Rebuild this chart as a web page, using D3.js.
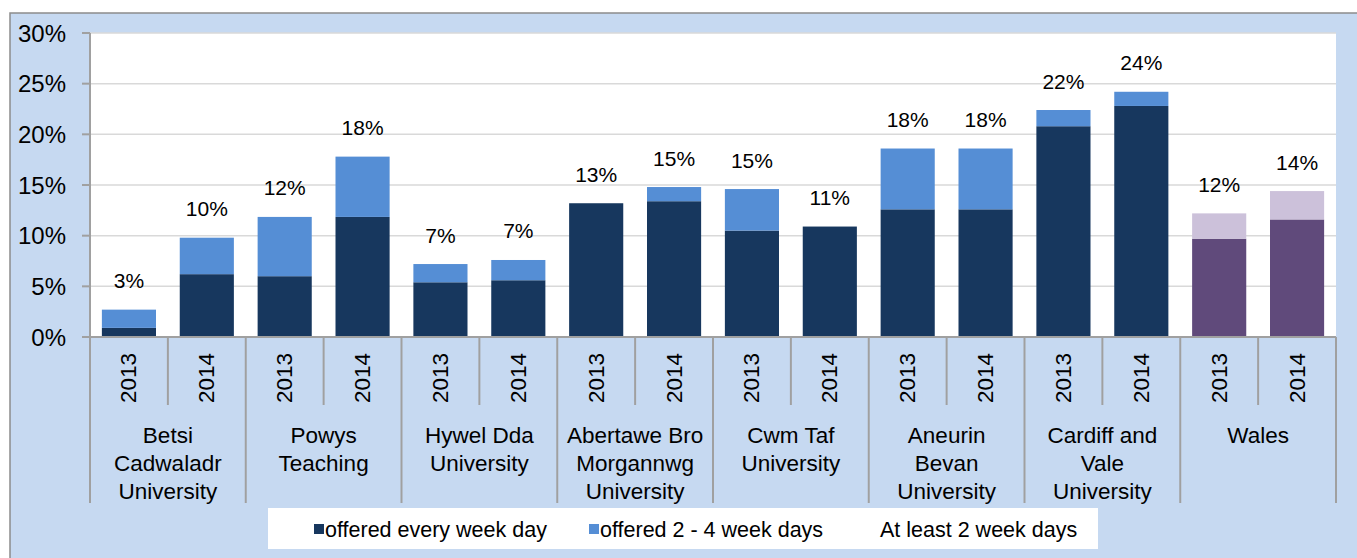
<!DOCTYPE html>
<html><head><meta charset="utf-8">
<script src="https://cdn.jsdelivr.net/npm/d3@7"></script>
<style>
body{margin:0;background:#fff;}
text{font-family:"Liberation Sans",Arial,sans-serif;fill:#000;}
</style></head>
<body><svg id="c" width="1357" height="558"></svg>
<script>
const groups = ["Betsi Cadwaladr University","Powys Teaching","Hywel Dda University","Abertawe Bro Morgannwg University","Cwm Taf University","Aneurin Bevan University","Cardiff and Vale University","Wales"];
const groupLines = [["Betsi","Cadwaladr","University"],["Powys","Teaching"],["Hywel Dda","University"],["Abertawe Bro","Morgannwg","University"],["Cwm Taf","University"],["Aneurin","Bevan","University"],["Cardiff and","Vale","University"],["Wales"]];
const years = ["2013","2014"];
const everyDay = [0.9,6.2, 6.0,11.85, 5.4,5.6, 13.2,13.4, 10.5,10.9, 12.6,12.6, 20.8,22.8, 9.7,11.6];
const twoToFour = [1.8,3.6, 5.85,5.95, 1.8,2.0, 0.0,1.4, 4.1,0.0, 6.0,6.0, 1.6,1.4, 2.5,2.8];
const labels = ["3%","10%","12%","18%","7%","7%","13%","15%","15%","11%","18%","18%","22%","24%","12%","14%"];
const yTicks = [0,5,10,15,20,25,30];
const legendNames = ["offered every week day","offered 2 - 4 week days","At least 2 week days"];

const svg = d3.select("#c");
const L=90, R=1336, T=33, B=337;
svg.append("rect").attr("x",10).attr("y",13).attr("width",1400).attr("height",600)
  .attr("fill","#C6D9F1").attr("stroke","#8C8C8C").attr("stroke-width",1.5);
svg.append("rect").attr("x",L).attr("y",T).attr("width",R-L).attr("height",B-T).attr("fill","#fff");

const keys = [];
groups.forEach((g,i)=>years.forEach(y=>keys.push(i+"-"+y)));
const x = d3.scaleBand().domain(keys).range([L,R]).paddingInner(0.305).paddingOuter(0.1525);
const step = x.step();
const y = d3.scaleLinear().domain([0,30]).range([B,T]);

// gridlines
svg.append("g").selectAll("line").data(yTicks.filter(t=>t>0)).join("line")
  .attr("x1",L).attr("x2",R).attr("y1",d=>y(d)).attr("y2",d=>y(d))
  .attr("stroke","#D9D9D9").attr("stroke-width",1.5);

// bars
const isWales = i => i>=14;
const bars = svg.append("g");
keys.forEach((k,i)=>{
  bars.append("rect").attr("x",x(k)).attr("width",x.bandwidth())
    .attr("y",y(everyDay[i])).attr("height",y(0)-y(everyDay[i]))
    .attr("fill",isWales(i)?"#604A7B":"#17375E");
  if(twoToFour[i]>0){
    const top=everyDay[i]+twoToFour[i];
    bars.append("rect").attr("x",x(k)).attr("width",x.bandwidth())
      .attr("y",y(top)).attr("height",y(everyDay[i])-y(top))
      .attr("fill",isWales(i)?"#CCC1DA":"#558ED5");
  }
  svg.append("text").attr("x",x(k)+x.bandwidth()/2).attr("y",y(everyDay[i]+twoToFour[i])-29)
    .attr("text-anchor","middle").attr("dominant-baseline","central")
    .attr("font-size",21).text(labels[i]);
});

// y axis
const ya = svg.append("g");
ya.append("line").attr("x1",L).attr("x2",L).attr("y1",T).attr("y2",B).attr("stroke","#A0A0A0").attr("stroke-width",2);
yTicks.forEach(t=>{
  ya.append("line").attr("x1",L-8).attr("x2",L).attr("y1",y(t)).attr("y2",y(t)).attr("stroke","#A0A0A0").attr("stroke-width",2);
  ya.append("text").attr("x",66).attr("y",y(t)).attr("text-anchor","end").attr("dominant-baseline","central")
    .attr("font-size",24).text(t+"%");
});

// x axis (multi-level)
const xa = svg.append("g");
xa.append("line").attr("x1",L).attr("x2",R).attr("y1",B).attr("y2",B).attr("stroke","#A0A0A0").attr("stroke-width",2);
for(let j=0;j<=keys.length;j++){
  const xx = L + j*step;
  xa.append("line").attr("x1",xx).attr("x2",xx).attr("y1",B).attr("y2",j%2===0?503:405)
    .attr("stroke","#A0A0A0").attr("stroke-width",2);
}
keys.forEach((k,i)=>{
  const cx = x(k)+x.bandwidth()/2;
  xa.append("text").attr("transform",`translate(${cx},378) rotate(-90)`)
    .attr("text-anchor","middle").attr("dominant-baseline","central").attr("font-size",22.5)
    .text(years[i%2]);
});
groupLines.forEach((lines,g)=>{
  const cx = L + (2*g+1)*step;
  lines.forEach((ln,li)=>{
    xa.append("text").attr("x",cx).attr("y",435+li*28).attr("text-anchor","middle")
      .attr("dominant-baseline","central").attr("font-size",22.5).text(ln);
  });
});

// legend
const lg = svg.append("g");
lg.append("rect").attr("x",268).attr("y",508).attr("width",830).attr("height",41).attr("fill","#fff");
const legX = [314,589,880];
const legC = ["#17375E","#558ED5",null];
legendNames.forEach((n,i)=>{
  if(legC[i]) lg.append("rect").attr("x",legX[i]).attr("y",524).attr("width",10).attr("height",10).attr("fill",legC[i]);
  lg.append("text").attr("x",legC[i]?legX[i]+11:legX[i]).attr("y",530).attr("dominant-baseline","central")
    .attr("font-size",21.5).text(n);
});
</script></body></html>
